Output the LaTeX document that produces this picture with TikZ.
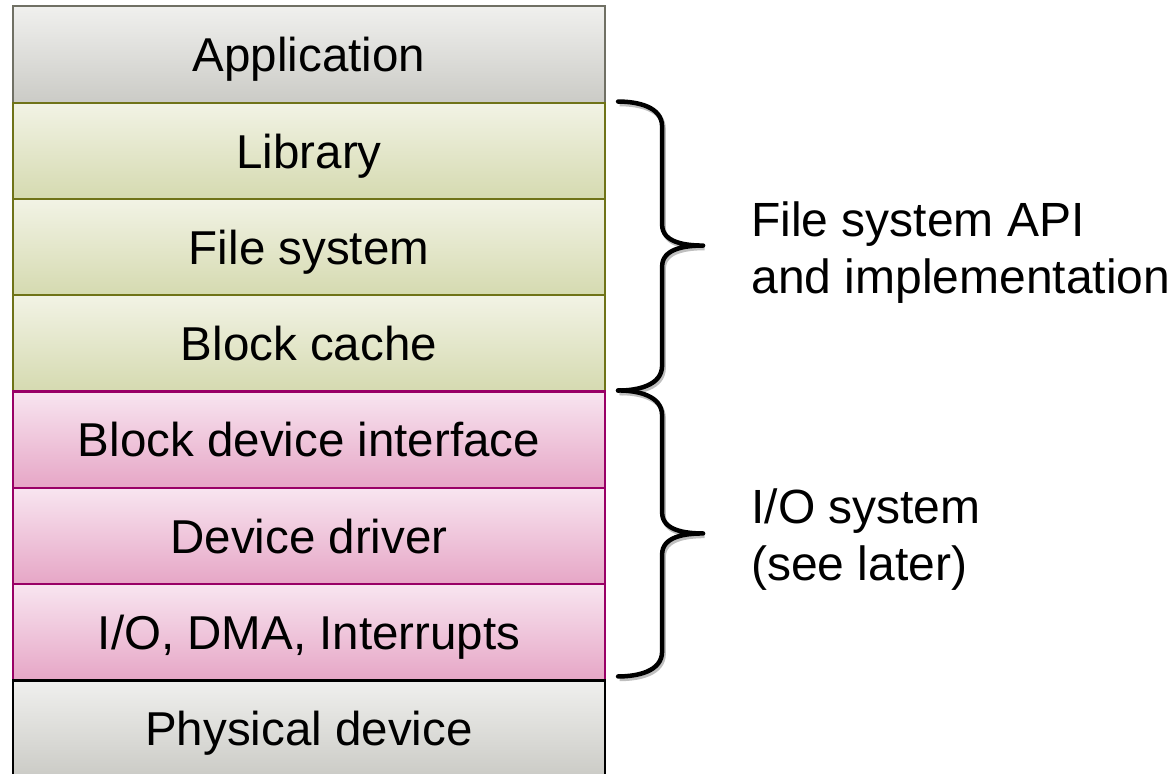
\documentclass[tikz,border=0pt]{standalone}
\usepackage{fontspec}
\setmainfont{Liberation Sans}
\definecolor{apc}{RGB}{112,112,100}
\definecolor{gtop}{RGB}{240,240,238}
\definecolor{gbot}{RGB}{203,203,198}
\definecolor{olc}{RGB}{111,115,24}
\definecolor{otop}{RGB}{242,243,229}
\definecolor{obot}{RGB}{213,218,176}
\definecolor{pkc}{RGB}{153,0,102}
\definecolor{ptop}{RGB}{248,229,240}
\definecolor{pbot}{RGB}{230,166,198}

\begin{document}
\begin{tikzpicture}[x=1pt, y=1pt, node distance=96.3pt, block/.style={rectangle, draw, line width=2.2pt, minimum width=592pt, minimum height=96.3pt, inner sep=0pt, text height=34.5pt, text depth=0pt, font=\fontsize{47.5}{57}\selectfont}, greybox/.style={block, draw=apc, top color=gtop, bottom color=gbot}, fsbox/.style={block, draw=olc, top color=otop, bottom color=obot}, iobox/.style={block, draw=pkc, top color=ptop, bottom color=pbot}, brace/.style={line width=4.5pt, line cap=round, line join=round, preaction={draw=black!25, line width=4.5pt, transform canvas={xshift=1.5pt, yshift=-2.5pt}}}, side/.style={anchor=west, align=left, inner sep=0pt, font=\fontsize{48}{57}\selectfont}]

    \useasboundingbox (0,0) rectangle (1174,-773);

    \node[greybox] (app) at (309,-54.5) {Application};
    \node[fsbox, below of=app] (lib) {Library};
    \node[fsbox, below of=lib] (fs) {File system};
    \node[fsbox, below of=fs] (cache) {Block cache};
    \node[iobox, below of=cache] (bdi) {Block device interface};
    \node[iobox, below of=bdi] (drv) {Device driver};
    \node[iobox, below of=drv] (io) {I/O, DMA, Interrupts};
    \node[greybox, draw=black, below of=io] (phys) {Physical device};

    \coordinate (b1) at ([xshift=12pt]lib.north east);
    \coordinate (b2) at ([xshift=12pt]bdi.north east);

    \draw[brace] (b1) to[out=0,in=90] ++(44,-25) -- ++(0,-98) to[out=-90,in=180] ++(41,-21) coordinate (tip1) to[out=180,in=90] ++(-41,-21) -- ++(0,-99) to[out=-90,in=0] ++(-44,-25);
    \draw[brace] (b2) to[out=0,in=90] ++(44,-25) -- ++(0,-97) to[out=-90,in=180] ++(41,-21) coordinate (tip2) to[out=180,in=90] ++(-41,-21) -- ++(0,-97) to[out=-90,in=0] ++(-44,-25);

    \node[side] (fsapi) at ([xshift=48pt, yshift=-7pt]tip1) {File system API\\and implementation};
    \node[side] (iosys) at ([xshift=48pt, yshift=-6pt]tip2) {I/O system\\(see later)};

  \end{tikzpicture}
\end{document}
